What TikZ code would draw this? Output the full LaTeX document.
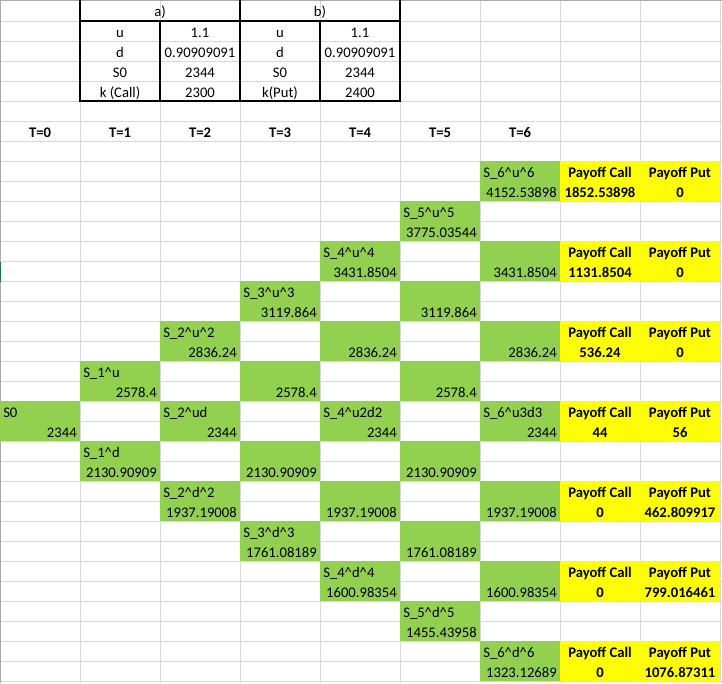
\documentclass[tikz,border=0pt]{standalone}
\usepackage{fontspec}
\setmainfont{Carlito}
\definecolor{gridgray}{HTML}{D9D9D9}
\definecolor{cellgreen}{HTML}{92D050}
\definecolor{cellyellow}{HTML}{FFFF00}
\definecolor{edgegray}{HTML}{ABABAB}
\definecolor{selmark}{HTML}{217346}

\begin{document}
\begin{tikzpicture}[x=0.75pt,y=-0.75pt,
  txt/.style={inner sep=0pt,font=\fontsize{11}{13}\selectfont},
  lft/.style={txt,anchor=base west},
  rgt/.style={txt,anchor=base east},
  ctr/.style={txt,anchor=base},
  bold/.style={txt,anchor=base,font=\fontsize{11}{13}\selectfont\bfseries},
  gridline/.style={draw=gridgray,line width=0.75pt},
  tblrule/.style={line width=1.5pt,line cap=rect}]
\useasboundingbox (0,0) rectangle (722,683);
\fill[white] (0,0) rectangle (722,683);

% sheet gridlines: 80px columns, 20px rows
\foreach \k in {1,...,9} \draw[gridline] (80*\k,0) -- (80*\k,683);
\foreach \r in {1,...,34} \draw[gridline] (0,20*\r+1) -- (722,20*\r+1);

% sheet edge and selected-row marker
\draw[edgegray,line width=0.75pt] (0,0.5) -- (722,0.5);
\draw[edgegray,line width=0.75pt] (0.5,0) -- (0.5,683);
\draw[selmark,line width=0.9pt] (0.6,262) -- (0.6,282);

% parameter table
\node[ctr] (ha) at (160,16) {a)};
\node[ctr] (hb) at (320,16) {b)};
\foreach \r/\pa/\va/\pb/\vb in {2/u/1.1/u/1.1,
                               3/d/0.90909091/d/0.90909091,
                               4/S0/2344/S0/2344,
                               5/k (Call)/2300/k(Put)/2400} {
  \node[ctr] (pa-\r) at (120,20*\r-3) {\pa};
  \node[ctr] (va-\r) at (200,20*\r-3) {\va};
  \node[ctr] (pb-\r) at (280,20*\r-3) {\pb};
  \node[ctr] (vb-\r) at (360,20*\r-3) {\vb};
}
\draw[tblrule] (80,0) -- (80,101);
\draw[tblrule] (240,0) -- (240,101);
\draw[tblrule] (400,0) -- (400,101);
\draw[tblrule] (160,21) -- (160,101);
\draw[tblrule] (320,21) -- (320,101);
\draw[tblrule] (80,21) -- (400,21);
\draw[tblrule] (80,101) -- (400,101);

% time steps
\foreach \t in {0,...,6} \node[bold] (t\t) at (80*\t+40,137) {T=\t};

% tree cells: column / first row / price
\foreach \c/\r/\val in {6/9/4152.53898, 5/11/3775.03544,
    4/13/3431.8504, 6/13/3431.8504,
    3/15/3119.864, 5/15/3119.864,
    2/17/2836.24, 4/17/2836.24, 6/17/2836.24,
    1/19/2578.4, 3/19/2578.4, 5/19/2578.4,
    0/21/2344, 2/21/2344, 4/21/2344, 6/21/2344,
    1/23/2130.90909, 3/23/2130.90909, 5/23/2130.90909,
    2/25/1937.19008, 4/25/1937.19008, 6/25/1937.19008,
    3/27/1761.08189, 5/27/1761.08189,
    4/29/1600.98354, 6/29/1600.98354,
    5/31/1455.43958, 6/33/1323.12689} {
  \fill[cellgreen] (80*\c,20*\r-19) rectangle (80*\c+80,20*\r+21);
  \node[rgt] (v-\c-\r) at (80*\c+77,20*\r+17) {\val};
}

% node labels
\foreach \c/\r/\lab in {
    6/9/{S\_6\textasciicircum{}u\textasciicircum{}6},
    5/11/{S\_5\textasciicircum{}u\textasciicircum{}5},
    4/13/{S\_4\textasciicircum{}u\textasciicircum{}4},
    3/15/{S\_3\textasciicircum{}u\textasciicircum{}3},
    2/17/{S\_2\textasciicircum{}u\textasciicircum{}2},
    1/19/{S\_1\textasciicircum{}u},
    0/21/{S0},
    2/21/{S\_2\textasciicircum{}ud},
    4/21/{S\_4\textasciicircum{}u2d2},
    6/21/{S\_6\textasciicircum{}u3d3},
    1/23/{S\_1\textasciicircum{}d},
    2/25/{S\_2\textasciicircum{}d\textasciicircum{}2},
    3/27/{S\_3\textasciicircum{}d\textasciicircum{}3},
    4/29/{S\_4\textasciicircum{}d\textasciicircum{}4},
    5/31/{S\_5\textasciicircum{}d\textasciicircum{}5},
    6/33/{S\_6\textasciicircum{}d\textasciicircum{}6}} {
  \node[lft] (s-\c-\r) at (80*\c+3,20*\r-3) {\lab};
}

% payoffs at maturity
\foreach \r/\vcall/\vput in {9/1852.53898/0, 13/1131.8504/0, 17/536.24/0,
    21/44/56, 25/0/462.809917, 29/0/799.016461, 33/0/1076.87311} {
  \fill[cellyellow] (560,20*\r-19) rectangle (720,20*\r+21);
  \node[bold] (hc-\r) at (600,20*\r-3) {Payoff Call};
  \node[bold] (hp-\r) at (680,20*\r-3) {Payoff Put};
  \node[bold] (pc-\r) at (600,20*\r+17) {\vcall};
  \node[bold] (pp-\r) at (680,20*\r+17) {\vput};
}
\end{tikzpicture}
\end{document}
